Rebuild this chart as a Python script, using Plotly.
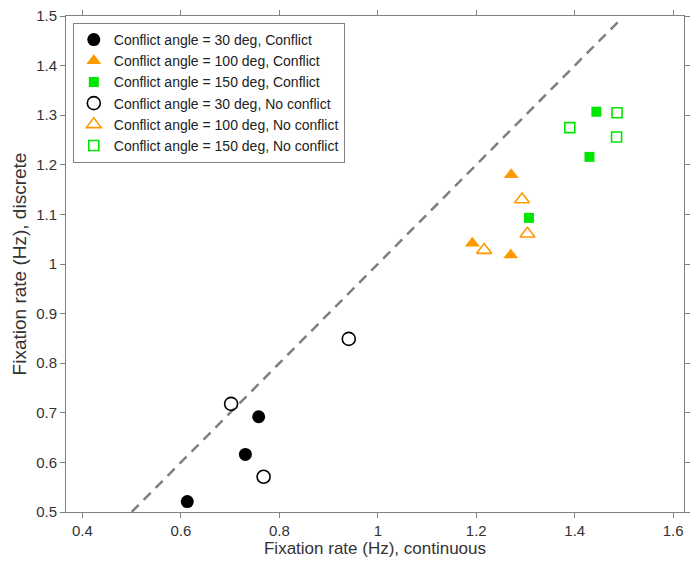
import plotly.graph_objects as go

# Fixation rates (Hz): continuous (x) vs discrete (y)
c30_conf_x = [0.613, 0.731, 0.758]
c30_conf_y = [0.521, 0.616, 0.692]
c100_conf_x = [1.271, 1.192, 1.270]
c100_conf_y = [1.180, 1.042, 1.018]
c150_conf_x = [1.444, 1.430, 1.307]
c150_conf_y = [1.307, 1.216, 1.093]

c30_noconf_x = [0.702, 0.768, 0.941]
c30_noconf_y = [0.718, 0.571, 0.849]
c100_noconf_x = [1.293, 1.304, 1.216]
c100_noconf_y = [1.130, 1.061, 1.028]
c150_noconf_x = [1.486, 1.390, 1.485]
c150_noconf_y = [1.305, 1.275, 1.256]

identity_line = [0.5, 1.49]

labels = [
    "Conflict angle = 30 deg, Conflict",
    "Conflict angle = 100 deg, Conflict",
    "Conflict angle = 150 deg, Conflict",
    "Conflict angle = 30 deg, No conflict",
    "Conflict angle = 100 deg, No conflict",
    "Conflict angle = 150 deg, No conflict",
]

BLACK = "#000000"
ORANGE = "#ff9900"
GREEN = "#00e600"
FONT = "Liberation Sans, Arial, sans-serif"

fig = go.Figure()

fig.add_trace(go.Scatter(
    x=identity_line, y=identity_line, mode="lines",
    line=dict(color="#7f7f7f", width=2.5, dash="10px,7px"),
    showlegend=False, hoverinfo="skip"))

series = [
    (c30_conf_x, c30_conf_y, "circle", 13, BLACK, True),
    (c100_conf_x, c100_conf_y, "triangle-up", 13, ORANGE, True),
    (c150_conf_x, c150_conf_y, "square", 10, GREEN, True),
    (c30_noconf_x, c30_noconf_y, "circle-open", 13, BLACK, False),
    (c100_noconf_x, c100_noconf_y, "triangle-up-open", 13, ORANGE, False),
    (c150_noconf_x, c150_noconf_y, "square-open", 10, GREEN, False),
]

for (xs, ys, sym, size, col, filled), name in zip(series, labels):
    fig.add_trace(go.Scatter(
        x=xs, y=ys, mode="markers", name=name,
        marker=dict(symbol=sym, size=size, color=col,
                    line=dict(color=col, width=0 if filled else 1.6))))

axis_common = dict(
    showline=True, linecolor="#808080", linewidth=1,
    mirror="ticks", ticks="outside", ticklen=5, tickcolor="#808080",
    showgrid=False, zeroline=False,
    tickfont=dict(family=FONT, size=15, color="#333333"),
)

fig.update_xaxes(range=[0.3666, 1.622], dtick=0.2, tick0=0.4,
                 title=dict(text="Fixation rate (Hz), continuous",
                            font=dict(family=FONT, size=17, color="#333333"), standoff=2),
                 **axis_common)
fig.update_yaxes(range=[0.5, 1.5], dtick=0.1, tick0=0.5,
                 title=dict(text="Fixation rate (Hz), discrete",
                            font=dict(family=FONT, size=19, color="#333333"), standoff=4),
                 **axis_common)

fig.update_layout(
    width=691, height=563,
    margin=dict(l=66, r=1, t=16, b=51),
    plot_bgcolor="white", paper_bgcolor="white",
    font=dict(family=FONT, color="#222222"),
    legend=dict(x=0.011, y=0.986, xanchor="left", yanchor="top",
                bgcolor="white", bordercolor="#808080", borderwidth=1,
                font=dict(family=FONT, size=14, color="#222222"),
                itemwidth=30, tracegroupgap=0),
)

fig.write_html("out.html")
